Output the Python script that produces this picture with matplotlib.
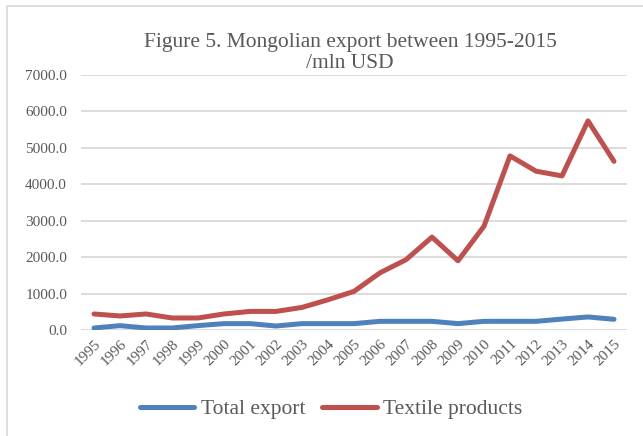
import matplotlib.pyplot as plt
import numpy as np
from matplotlib.patches import Rectangle

# data (mln USD)
years = [str(y) for y in range(1995, 2016)]
total_export = [55, 120, 55, 55, 120, 175, 175, 110, 175, 175, 175,
                238, 238, 238, 175, 238, 238, 238, 300, 358, 294]
textile = [440, 385, 440, 330, 330, 440, 510, 510, 620, 830, 1060,
           1570, 1930, 2550, 1900, 2850, 4780, 4360, 4230, 5740, 4630]
yticks = [0, 1000, 2000, 3000, 4000, 5000, 6000, 7000]

plt.rcParams['font.family'] = ['Liberation Serif', 'DejaVu Serif']
txt_col = '#595959'
grid_col = '#D9D9D9'

W, H = 643, 436
fig = plt.figure(figsize=(W / 100, H / 100), dpi=100)

# chart frame (only top and left edges show in the reference)
fig.patches.append(Rectangle((7 / W, -0.1), 1.2, 1.1 - 6 / H, transform=fig.transFigure,
                             fill=False, edgecolor=grid_col, linewidth=1.2))

ax = fig.add_axes([81 / W, (H - 330) / H, 546 / W, 255 / H])
x = np.arange(len(years))
ax.plot(x, total_export, color='#4F81BD', linewidth=3.6, solid_capstyle='round',
        label='Total export', zorder=3)
ax.plot(x, textile, color='#C0504D', linewidth=3.6, solid_capstyle='round',
        label='Textile products', zorder=3)

ax.set_xlim(-0.5, len(years) - 0.5)
ax.set_ylim(0, 7000)
ax.set_yticks(yticks)
ax.set_yticklabels(['%.1f' % v for v in yticks], fontsize=11, color=txt_col)
ax.set_xticks(x)
ax.set_xticklabels(years, rotation=45, ha='right', rotation_mode='anchor',
                   fontsize=11, color=txt_col)
ax.tick_params(length=0, pad=5)
ax.tick_params(axis='y', pad=10)
ax.grid(axis='y', color=grid_col, linewidth=1.3)
ax.set_axisbelow(True)
for s in ax.spines.values():
    s.set_visible(False)

fig.text(350 / W, 1 - 47 / H, 'Figure 5. Mongolian export between 1995-2015',
         ha='center', va='baseline', fontsize=15.5, color=txt_col)
fig.text(350 / W, 1 - 68 / H, '/mln USD',
         ha='center', va='baseline', fontsize=15.5, color=txt_col)

leg = fig.legend(loc='center', bbox_to_anchor=(331 / W, 1 - 409 / H), ncol=2,
                 frameon=False, fontsize=15.5, handlelength=2.55, columnspacing=0.8,
                 handletextpad=0.28)
for t in leg.get_texts():
    t.set_color(txt_col)

fig.savefig('out.png', dpi=100)
